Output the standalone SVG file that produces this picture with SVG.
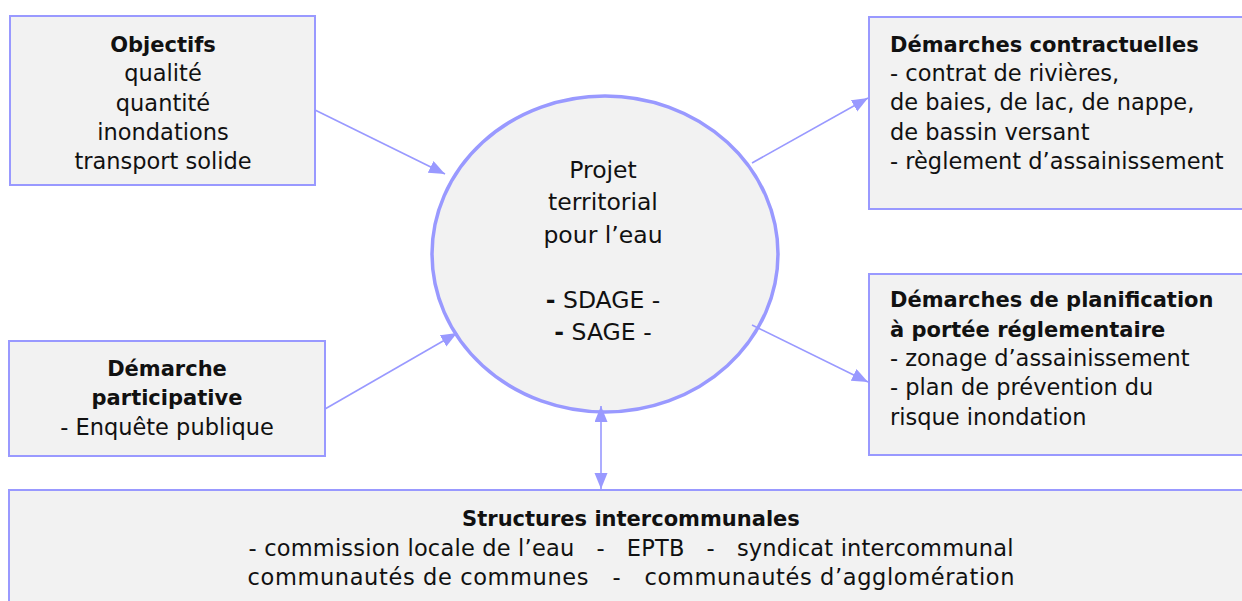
<svg xmlns="http://www.w3.org/2000/svg" width="1242" height="601" viewBox="0 0 1242 601">
<style>
.box{fill:#f2f2f2;stroke:#9999ff;stroke-width:2}
.ell{fill:#f2f2f2;stroke:#9999ff;stroke-width:3.5}
.t{font-family:"DejaVu Sans","Liberation Sans",sans-serif;font-size:22.5px;fill:#111}
.b{font-weight:bold;font-size:21px}
.c{text-anchor:middle}
.big{font-size:23.5px}
.conn line{stroke:#9999ff;stroke-width:1.6;fill:none}
</style>
<defs>
<marker id="ah" markerUnits="userSpaceOnUse" markerWidth="18" markerHeight="14" refX="16" refY="6.5" orient="auto">
<path d="M0,0 L16,6.5 L0,13 z" fill="#9999ff"/>
</marker>
<marker id="ahs" markerUnits="userSpaceOnUse" markerWidth="18" markerHeight="14" refX="16" refY="6.5" orient="auto-start-reverse">
<path d="M0,0 L16,6.5 L0,13 z" fill="#9999ff"/>
</marker>
</defs>
<g id="objectifs">
<rect class="box" x="10" y="16" width="305" height="169"/>
<text class="t b c" x="163" y="52">Objectifs</text>
<text class="t c" x="163" y="81">qualité</text>
<text class="t c" x="163" y="111">quantité</text>
<text class="t c" x="163" y="140">inondations</text>
<text class="t c" x="163" y="169">transport solide</text>
</g>
<g id="participative">
<rect class="box" x="9" y="341" width="316" height="115"/>
<text class="t b c" x="167" y="376">Démarche</text>
<text class="t b c" x="167" y="405">participative</text>
<text class="t c" x="167" y="435">- Enquête publique</text>
</g>
<g id="contractuelles">
<rect class="box" x="869" y="17" width="400" height="192"/>
<text class="t b" x="890" y="52">Démarches contractuelles</text>
<text class="t" x="890" y="81">- contrat de rivières,</text>
<text class="t" x="890" y="110">de baies, de lac, de nappe,</text>
<text class="t" x="890" y="140">de bassin versant</text>
<text class="t" x="890" y="169">- règlement d’assainissement</text>
</g>
<g id="planification">
<rect class="box" x="869" y="274" width="400" height="181"/>
<text class="t b" x="890" y="307">Démarches de planification</text>
<text class="t b" x="890" y="337">à portée réglementaire</text>
<text class="t" x="890" y="366">- zonage d’assainissement</text>
<text class="t" x="890" y="395">- plan de prévention du</text>
<text class="t" x="890" y="425">risque inondation</text>
</g>
<g id="structures">
<rect class="box" x="9" y="490" width="1250" height="150"/>
<text class="t b c" x="631" y="526">Structures intercommunales</text>
<text class="t c" x="631" y="556" xml:space="preserve" textLength="765" lengthAdjust="spacing">- commission locale de l’eau   -   EPTB   -   syndicat intercommunal</text>
<text class="t c" x="631" y="585" xml:space="preserve" textLength="767" lengthAdjust="spacing">communautés de communes   -   communautés d’agglomération</text>
</g>
<g id="projet">
<ellipse class="ell" cx="605" cy="254" rx="173" ry="158"/>
<text class="t big c" x="603" y="178">Projet</text>
<text class="t big c" x="603" y="210">territorial</text>
<text class="t big c" x="603" y="243">pour l’eau</text>
<text class="t big c" x="603" y="308"><tspan font-weight="bold">-</tspan> SDAGE -</text>
<text class="t big c" x="603" y="340"><tspan font-weight="bold">-</tspan> SAGE -</text>
</g>
<g id="connectors" class="conn">
<line x1="315" y1="110" x2="445" y2="174" marker-end="url(#ah)"/>
<line x1="752" y1="163" x2="868" y2="98" marker-end="url(#ah)"/>
<line x1="752" y1="325" x2="868" y2="382" marker-end="url(#ah)"/>
<line x1="325" y1="409" x2="457" y2="333" marker-end="url(#ah)"/>
<line x1="601" y1="406" x2="601" y2="489" marker-start="url(#ahs)" marker-end="url(#ah)"/>
</g>
</svg>
